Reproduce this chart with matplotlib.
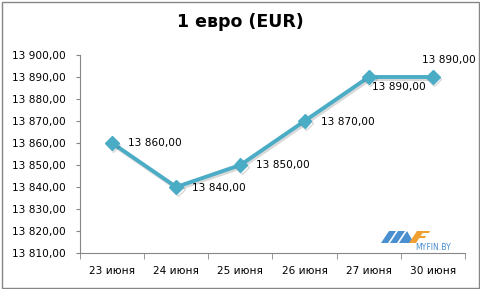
import matplotlib.pyplot as plt
import matplotlib.patheffects as pe
from matplotlib.patches import Rectangle, Polygon
from matplotlib.ticker import FuncFormatter, MultipleLocator

# данные курса
dates = ['23 июня', '24 июня', '25 июня', '26 июня', '27 июня', '30 июня']
rates = [13860.00, 13840.00, 13850.00, 13870.00, 13890.00, 13890.00]
# смещение подписей (в пикселях) как на оригинале
label_dx = [16, 16, 16, 16, 3, -11]
label_dy = [0, -1, 0, -1, -10, 17]

W, H = 481, 289
fig = plt.figure(figsize=(W / 100, H / 100), dpi=100)
plt.rcParams['font.family'] = ['DejaVu Sans']

ax = fig.add_axes([80 / W, 1 - 253 / H, 385 / W, (253 - 55) / H])

def ru_fmt(v, pos=None):
    s = f'{v:,.2f}'
    return s.replace(',', ' ').replace('.', ',')

x = list(range(len(dates)))
teal = '#4BACC6'
ax.plot(x, rates, color=teal, lw=2.8, marker='D', ms=7, mec=teal, mfc=teal,
        solid_joinstyle='miter',
        path_effects=[pe.SimpleLineShadow(offset=(1, -1.5), alpha=0.15),
                      pe.Normal()])

for i, v in enumerate(rates):
    ax.annotate(ru_fmt(v), (x[i], v), xytext=(label_dx[i], label_dy[i]),
                textcoords='offset pixels', ha='left', va='center',
                fontsize=7.6, color='black')

ax.set_xlim(-0.5, len(dates) - 0.5)
ax.set_ylim(13810, 13900)
ax.yaxis.set_major_locator(MultipleLocator(10))
ax.yaxis.set_major_formatter(FuncFormatter(ru_fmt))
ax.set_xticks(x)
ax.set_xticklabels(dates)
ax.set_xticks([i + 0.5 for i in range(-1, len(dates))], minor=True)

for s in ['top', 'right']:
    ax.spines[s].set_visible(False)
for s in ['left', 'bottom']:
    ax.spines[s].set_color('#868686')
    ax.spines[s].set_linewidth(0.8)

ax.tick_params(axis='y', length=3, color='#868686', labelsize=7.6, pad=7)
ax.tick_params(axis='x', which='major', length=0, labelsize=7.6, pad=9)
ax.tick_params(axis='x', which='minor', length=4, color='#868686')

fig.text(0.5, 1 - 22 / H, '1 евро (EUR)', ha='center', va='center',
         fontsize=12.5, fontweight='bold')

# рамка вокруг диаграммы
fig.patches.append(Rectangle((1.5 / W, 1.5 / H), (W - 3) / W, (H - 3) / H,
                             transform=fig.transFigure, fill=False,
                             ec='#868686', lw=1))

# логотип myfin.by (упрощённо)
def fp(px, py):
    return (px / W, 1 - py / H)

logo_blue = [
    [(381, 243), (389, 231), (396, 231), (388, 243)],
    [(390, 243), (398, 231), (405, 231), (397, 243)],
    [(399, 243), (407, 231), (414, 243), (406, 243)],
]
for poly in logo_blue:
    fig.patches.append(Polygon([fp(*p) for p in poly], closed=True,
                               transform=fig.transFigure, fc='#4a8fd0', ec='none'))
fig.patches.append(Polygon([fp(*p) for p in [(409, 243), (417, 231), (424, 231), (416, 243)]],
                           closed=True, transform=fig.transFigure, fc='#f0a030', ec='none'))
fig.patches.append(Polygon([fp(*p) for p in [(418, 231), (430, 231), (429, 233), (417, 233)]],
                           closed=True, transform=fig.transFigure, fc='#f0a030', ec='none'))
fig.patches.append(Polygon([fp(*p) for p in [(416, 236), (426, 236), (425, 238), (415, 238)]],
                           closed=True, transform=fig.transFigure, fc='#f0a030', ec='none'))
fig.text(415 / W, 1 - 247 / H, 'MYFIN.BY', fontsize=5.6, color='#4a8fd0',
         ha='left', va='center')

fig.savefig('out.png', dpi=100)
